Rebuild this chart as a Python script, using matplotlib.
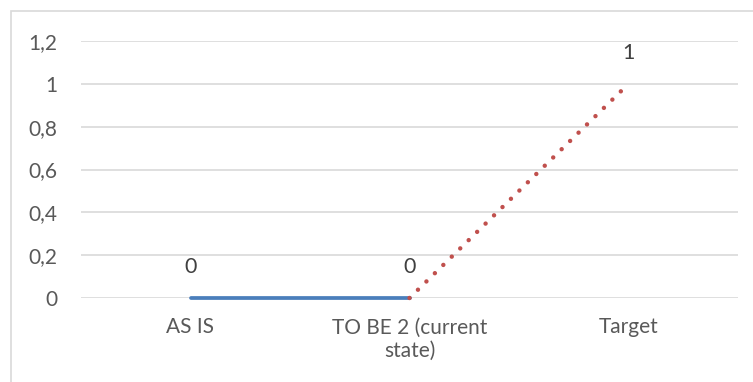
import matplotlib.pyplot as plt
from matplotlib.patches import Rectangle
from matplotlib.ticker import FuncFormatter

# categories and values
categories = ['AS IS', 'TO BE 2 (current\nstate)', 'Target']
current_values = [0, 0]      # AS IS -> TO BE 2
target_values = [0, 1]       # TO BE 2 -> Target
label_values = [0, 0, 1]
y_ticks = [0, 0.2, 0.4, 0.6, 0.8, 1.0, 1.2]

plt.rcParams['font.family'] = ['Lato', 'DejaVu Sans']

W, H = 753, 382
fig = plt.figure(figsize=(W / 100, H / 100), dpi=100)
ax = fig.add_axes([81 / W, (H - 298) / H, (738 - 81) / W, (298 - 41) / H])

# chart frame (only top and left edge visible)
fig.add_artist(Rectangle((11 / W, -0.1), 1.2, (H - 11) / H + 0.1,
                         transform=fig.transFigure, fill=False,
                         edgecolor='#D9D9D9', linewidth=1.2, clip_on=False))

x = list(range(len(categories)))
ax.plot(x[:2], current_values, color='#4A7EBB', linewidth=2.7,
        solid_capstyle='round', zorder=3, clip_on=False)
ax.plot(x[1:], target_values, color='#C0504D', linewidth=3.2,
        dashes=(0.01, 2.65), dash_capstyle='round', zorder=4, clip_on=False)

for xi, v in zip(x, label_values):
    ax.annotate(str(v), (xi, v), textcoords='offset points', xytext=(0, 22),
                ha='center', va='center', fontsize=15.5, color='#404040')

ax.set_xlim(-0.5, len(categories) - 0.5)
ax.set_ylim(0, 1.2)
ax.set_yticks(y_ticks)
ax.yaxis.set_major_formatter(FuncFormatter(lambda v, p: f'{v:g}'.replace('.', ',')))
ax.set_xticks(x)
ax.set_xticklabels(categories, linespacing=1.22)
ax.tick_params(axis='y', length=0, pad=17, labelsize=15, labelcolor='#595959')
ax.tick_params(axis='x', length=0, pad=14, labelsize=15, labelcolor='#595959')
ax.grid(axis='y', color='#D9D9D9', linewidth=1.2)
ax.set_axisbelow(True)
for s in ax.spines.values():
    s.set_visible(False)

fig.savefig('out.png', dpi=100)
